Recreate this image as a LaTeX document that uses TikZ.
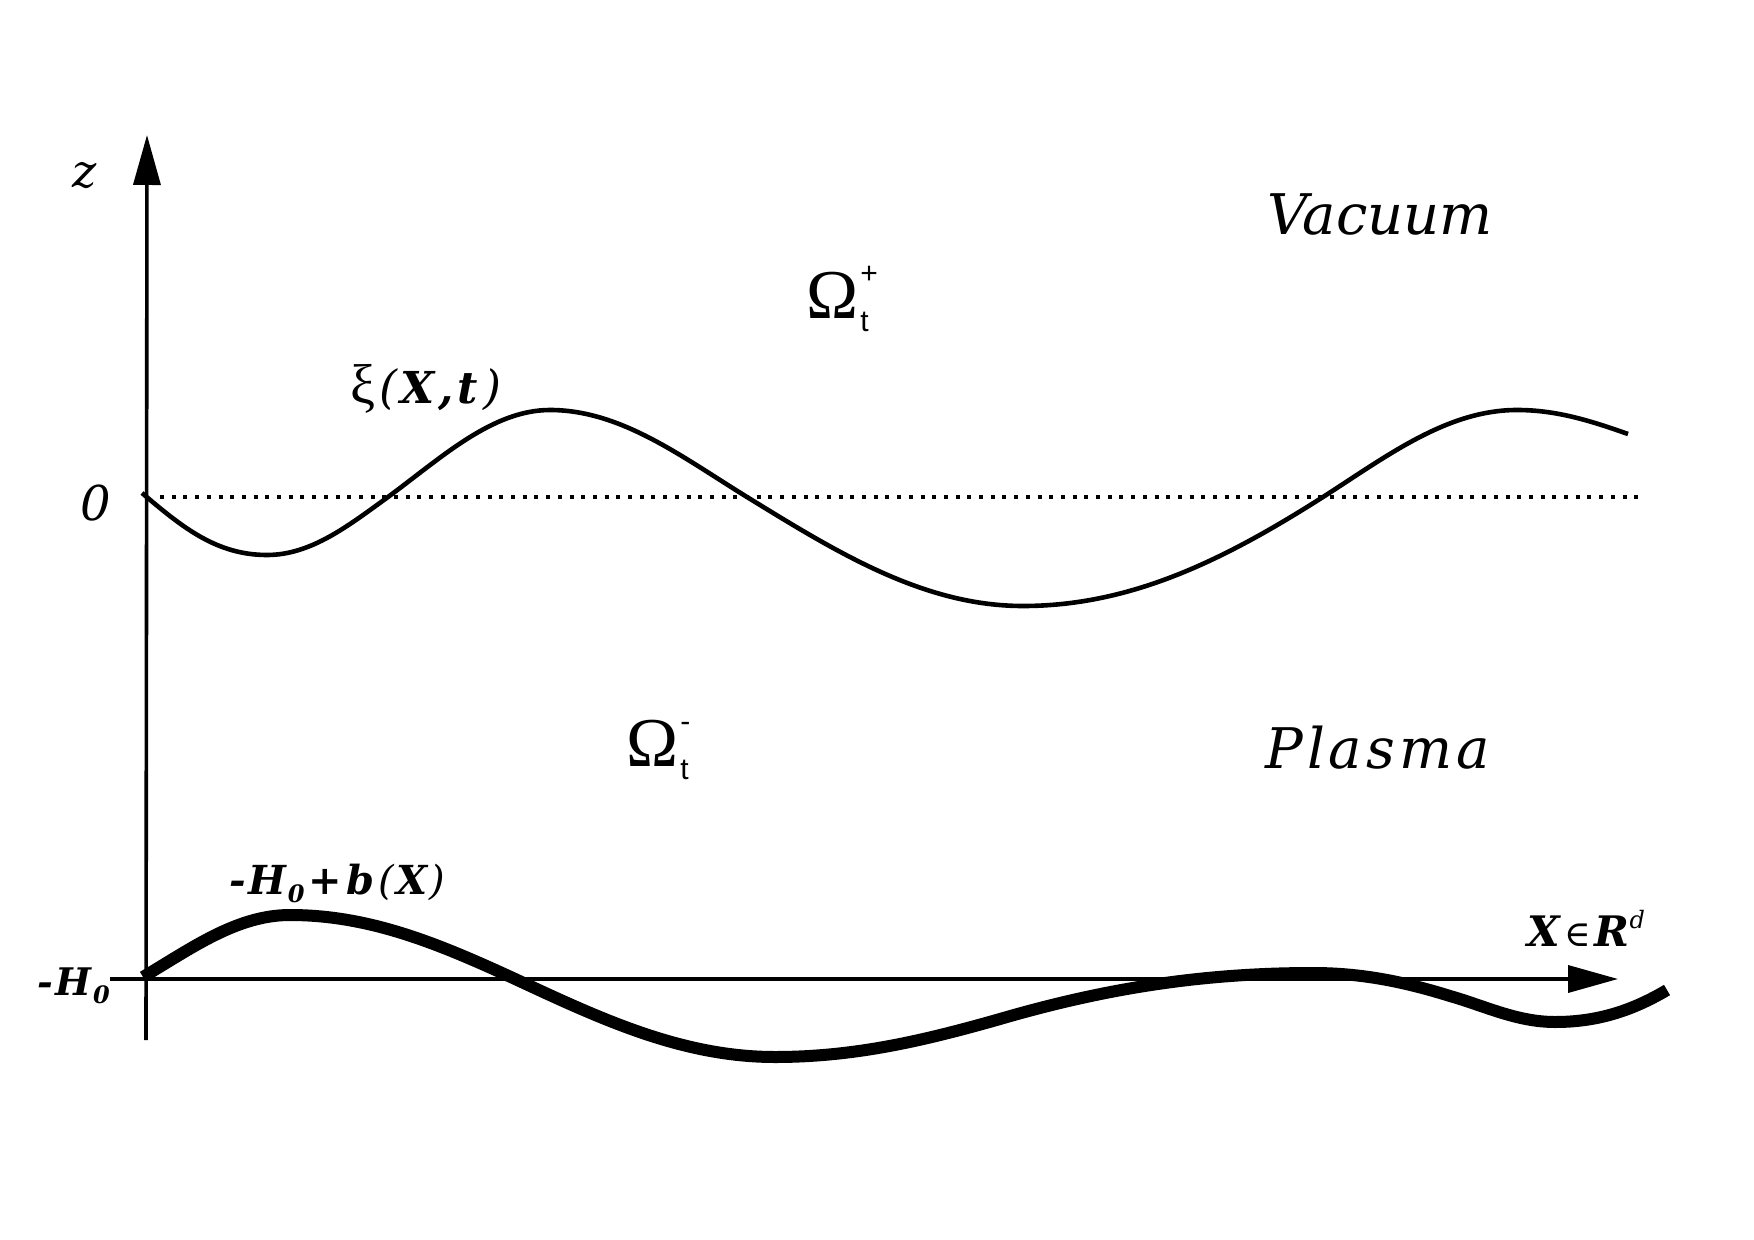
\documentclass[tikz,border=0pt]{standalone}
\usepackage{fontspec}
\usetikzlibrary{arrows.meta}
\newfontfamily\bk{DejaVu Serif}
\newfontfamily\tms{Liberation Serif}
\newfontfamily\arl{Liberation Sans}
\newcommand{\fsz}[1]{\fontsize{#1}{#1}\selectfont}
\newcommand{\bi}{\bk\bfseries\itshape}
\newcommand{\omg}[1]{{\tms\fsz{35}Ω}\kern1pt\makebox[0pt][l]{\arl\fsz{15}\raisebox{-6.5pt}{t}}\makebox[0pt][l]{\arl\fsz{15}\raisebox{17.5pt}{#1}}}
\tikzset{
  lbl/.style={inner sep=0pt, anchor=base west},
  axisline/.style={line width=1.8pt, -{Triangle[length=25pt,width=13.5pt]}},
  surf/.style={line width=2.3pt},
  bottom/.style={line width=6pt},
}
\begin{document}
\begin{tikzpicture}[x=0.5pt,y=-0.5pt]
\useasboundingbox (0,0) rectangle (1754,1240);
% axes
\coordinate (zbot) at (146,1040);
\coordinate (ztop) at (147,135);
\coordinate (xl) at (110,979);
\coordinate (xr) at (1618,979);
\coordinate (dl) at (160,497);
\coordinate (dr) at (1642,497);
\draw[axisline] (zbot) -- (ztop);
\draw[axisline] (xl) -- (xr);
\draw[line width=2pt, dash pattern=on 2pt off 3.85pt] (dl) -- (dr);
% free surface xi(X,t)
\draw[surf] (142,493)
  .. controls (183,528) and (217,555) .. (267,555)
  .. controls (311,555) and (348,526) .. (388,497)
  .. controls (441,458) and (492,410) .. (550,410)
  .. controls (621,410) and (682,457) .. (747,497)
  .. controls (838,553) and (924,606) .. (1023,606)
  .. controls (1131,606) and (1224,560) .. (1323,497)
  .. controls (1387,456) and (1447,410) .. (1517,410)
  .. controls (1557,410) and (1591,421) .. (1628,434);
% bottom -H0+b(X)
\draw[bottom] (143,977)
  .. controls (192,948) and (237,915) .. (290,915)
  .. controls (370,915) and (439,944) .. (513,978)
  .. controls (599,1018) and (681,1057) .. (775,1057)
  .. controls (856,1057) and (926,1040) .. (1000,1019)
  .. controls (1103,989) and (1200,973) .. (1313,973)
  .. controls (1362,973) and (1405,982) .. (1450,996)
  .. controls (1485,1006) and (1517,1022) .. (1555,1022)
  .. controls (1595,1022) and (1630,1012) .. (1667,990);
% labels
\node[lbl] (z) at (72,188) {\bk\itshape\fsz{23}z};
\node[lbl] (zero) at (80,520) {\bk\itshape\fsz{24}0};
\node[lbl] (vac) at (1267,235) {\bk\itshape\fsz{28}Vacuum};
\node[lbl] (pla) at (1265,768) {\bk\itshape\fsz{28}P\kern2pt l\kern2pt a\kern2pt s\kern2pt m\kern2pt a};
\node[lbl] (om1) at (806,319) {\omg{+}};
\node[lbl] (om2) at (626,766) {\omg{-}};
\node[lbl] (xi) at (350,404) {{\tms\fsz{28}ξ}\kern2pt{\bk\itshape\fsz{23}(}\kern1.5pt{\bi\fsz{22}X\kern2pt,\kern2pt t}\kern2.5pt{\bk\itshape\fsz{23})}};
\node[lbl] (bl) at (229,894) {\bi\fsz{20}-\kern1pt H\kern1pt\raisebox{-4pt}{\fsz{12}0}\kern2pt+\kern2pt b\kern2.5pt{\mdseries(}\kern1pt X\kern1pt{\mdseries)}};
\node[lbl] (h0) at (37,995) {\bi\fsz{19}-\kern1pt H\kern1pt\raisebox{-4pt}{\fsz{12}0}};
\node[lbl] (xrl) at (1527,946) {\bi\fsz{21}X\kern2pt{\mdseries\upshape\fsz{18}∈}\kern2pt R\raisebox{9pt}{\mdseries\fsz{12}d}};
\end{tikzpicture}
\end{document}
